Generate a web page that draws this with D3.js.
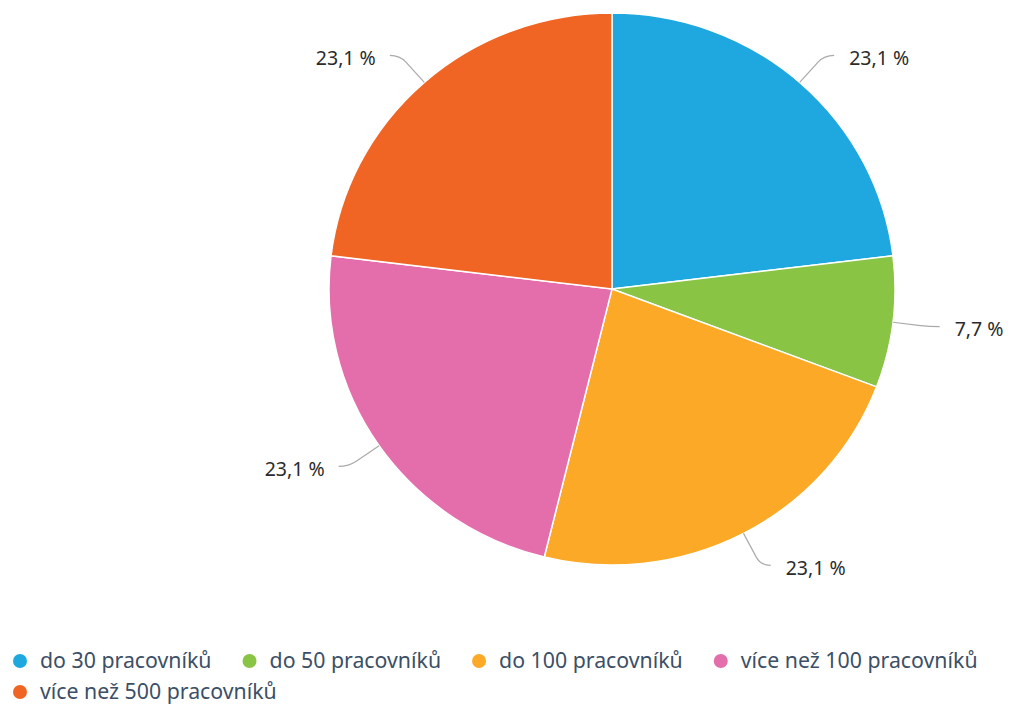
<!DOCTYPE html>
<html>
<head>
<meta charset="utf-8">
<script src="https://cdn.jsdelivr.net/npm/d3@7"></script>
<style>
  html, body { margin: 0; padding: 0; background: #fff; }
  svg { display: block; font-family: "Noto Sans", "Open Sans", sans-serif; }
</style>
</head>
<body>
<svg id="chart" width="1010" height="706"></svg>
<script>
// data
const categories = ["do 30 pracovníků", "do 50 pracovníků", "do 100 pracovníků", "více než 100 pracovníků", "více než 500 pracovníků"]
const values = [23.1, 7.7, 23.1, 23.1, 23.1]
const labels = ["23,1 %", "7,7 %", "23,1 %", "23,1 %", "23,1 %"]
const colors = ["#1fa8e0", "#8ac445", "#fba927", "#e46dac", "#f06524"]

const width = 1010
const height = 706
const cx = 612
const cy = 289
const radius = 283
const squash = 276 / 283   // picture is a bit flatter than a circle

const svg = d3.select("#chart")

const pie = d3.pie().sort(null).value(d => d)
const arcs = pie(values)
const arc = d3.arc().innerRadius(0).outerRadius(radius)

// slices
const g = svg.append("g").attr("transform", `translate(${cx},${cy}) scale(1,${squash})`)
g.selectAll("path.slice")
    .data(arcs)
    .join("path")
    .attr("class", "slice")
    .attr("d", arc)
    .attr("fill", (d, i) => colors[i])
    .attr("stroke", "#fff")
    .attr("stroke-width", 1.5)
    .attr("vector-effect", "non-scaling-stroke")

// label lines + labels
const lineOut = 37
const lineFlat = 10
const pt = (a, r) => [cx + r * Math.sin(a), cy - r * Math.cos(a) * squash]

arcs.forEach((d, i) => {
    const a = (d.startAngle + d.endAngle) / 2
    const right = Math.sin(a) >= 0
    const p0 = pt(a, radius)
    const p1 = pt(a, radius + lineOut)
    const p2 = [p1[0] + (right ? lineFlat : -lineFlat), p1[1]]
    // smooth corner
    const t = 0.75
    const m = [p0[0] + (p1[0] - p0[0]) * t, p0[1] + (p1[1] - p0[1]) * t]
    svg.append("path")
        .attr("d", `M${p0[0]},${p0[1]}L${m[0]},${m[1]}Q${p1[0]},${p1[1]} ${p2[0]},${p2[1]}`)
        .attr("fill", "none")
        .attr("stroke", "#aaa")
        .attr("stroke-width", 1.2)
    svg.append("text")
        .attr("x", p2[0] + (right ? 15 : -14))
        .attr("y", p2[1] + 3)
        .attr("dy", "0.35em")
        .attr("text-anchor", right ? "start" : "end")
        .attr("font-size", 19.5)
        .attr("fill", "#2b2b2b")
        .text(labels[i])
})

// legend
const legend = svg.append("g")
const rowY = [661, 692]
const itemGap = 38
const maxX = 1000
let x = 20
let row = 0
categories.forEach((c, i) => {
    const item = legend.append("g")
    const txt = item.append("text")
        .attr("x", 20)
        .attr("dy", "0.35em")
        .attr("font-size", 21.3)
        .attr("fill", "#3c4f66")
        .text(c)
    const w = txt.node().getComputedTextLength()
    if (x + 20 + w > maxX) { row += 1; x = 20 }
    item.attr("transform", `translate(${x},${rowY[row]})`)
    item.insert("circle", "text")
        .attr("r", 7)
        .attr("fill", colors[i])
    x += 20 + w + itemGap
})
</script>
</body>
</html>
